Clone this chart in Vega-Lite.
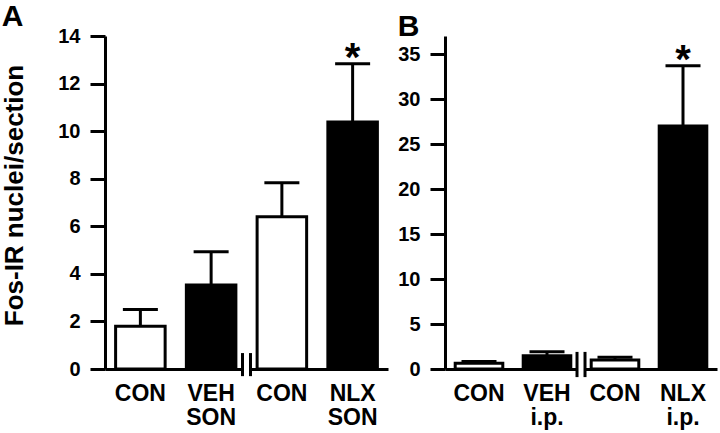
{
  "$schema": "https://vega.github.io/schema/vega-lite/v6.json",
  "background": "white",
  "padding": {"left": 1, "top": 2, "right": 2, "bottom": 2},
  "spacing": 9,
  "config": {
    "font": "Liberation Sans",
    "view": {"stroke": null},
    "title": {"font": "Liberation Sans", "fontSize": 30, "fontWeight": "bold", "color": "black", "anchor": "start", "frame": "bounds"}
  },
  "datasets": {
    "a": [
      {"group": "CON1", "mean": 1.8, "err": 2.5, "kind": "control", "star": false},
      {"group": "VEH", "mean": 3.53, "err": 4.93, "kind": "treated", "star": false},
      {"group": "CON2", "mean": 6.4, "err": 7.83, "kind": "control", "star": false},
      {"group": "NLX", "mean": 10.38, "err": 12.83, "kind": "treated", "star": true}
    ],
    "b": [
      {"group": "CON1", "mean": 0.65, "err": 0.82, "kind": "control", "star": false},
      {"group": "VEH", "mean": 1.48, "err": 1.92, "kind": "treated", "star": false},
      {"group": "CON2", "mean": 1.0, "err": 1.3, "kind": "control", "star": false},
      {"group": "NLX", "mean": 27.0, "err": 33.7, "kind": "treated", "star": true}
    ],
    "breakA": [{"group": "CON2", "lo": -0.3, "hi": 0.67, "base": 0}],
    "breakB": [{"group": "CON2", "lo": -0.9, "hi": 1.9, "base": 0}]
  },
  "hconcat": [
    {
      "width": 283, "height": 333,
      "title": {"text": "A", "offset": -6},
      "resolve": {"axis": {"y": "independent"}},
      "encoding": {
        "x": {"field": "group", "type": "nominal",
          "scale": {"domain": ["CON1", "VEH", "CON2", "NLX"], "paddingInner": 0.3, "paddingOuter": 0.15},
          "axis": {"title": null, "ticks": false, "labelAngle": 0, "labelFont": "Liberation Sans", "labelFontWeight": "bold", "labelFontSize": 23, "labelColor": "black", "labelPadding": 13, "labelLineHeight": 24,
            "domainColor": "black", "domainWidth": 3,
            "labelExpr": "datum.value == 'VEH' ? ['VEH','SON'] : datum.value == 'NLX' ? ['NLX','SON'] : 'CON'"}}
      },
      "layer": [
        {
          "data": {"name": "a"},
          "mark": {"type": "rule", "strokeWidth": 3, "color": "black"},
          "encoding": {
            "y": {"field": "mean", "type": "quantitative", "title": "Fos-IR nuclei/section",
              "scale": {"domain": [0, 14], "nice": false},
              "axis": {"values": [0, 2, 4, 6, 8, 10, 12, 14], "grid": false,
                "domainColor": "black", "domainWidth": 3,
                "tickColor": "black", "tickWidth": 3, "tickSize": 15, "tickOpacity": 1,
                "labelFont": "Liberation Sans", "labelFontWeight": "bold", "labelFontSize": 20, "labelColor": "black", "labelPadding": 10,
                "titleFont": "Liberation Sans", "titleFontWeight": "bold", "titleFontSize": 26, "titleColor": "black", "titlePadding": 30, "titleY": 159}},
            "y2": {"field": "err"}
          }
        },
        {
          "data": {"name": "a"},
          "mark": {"type": "tick", "thickness": 3, "size": 35, "color": "black", "opacity": 1},
          "encoding": {"y": {"field": "err", "type": "quantitative", "axis": null}}
        },
        {
          "data": {"name": "a"},
          "mark": {"type": "bar", "stroke": "black", "strokeWidth": 3, "opacity": 1},
          "encoding": {
            "y": {"field": "mean", "type": "quantitative", "axis": null},
            "fill": {"field": "kind", "type": "nominal", "scale": {"domain": ["control", "treated"], "range": ["white", "black"]}, "legend": null}
          }
        },
        {
          "data": {"name": "a"},
          "transform": [{"filter": "datum.star"}],
          "mark": {"type": "text", "text": "*", "fontSize": 40, "fontWeight": "bold", "baseline": "alphabetic", "dy": 7, "color": "black"},
          "encoding": {"y": {"field": "err", "type": "quantitative", "axis": null}}
        },
        {
          "data": {"name": "breakA"},
          "mark": {"type": "point", "shape": "square", "filled": true, "color": "white", "opacity": 1, "size": 40},
          "encoding": {
            "x": {"field": "group", "type": "nominal", "bandPosition": -0.214},
            "y": {"field": "base", "type": "quantitative", "axis": null}
          }
        },
        {
          "data": {"name": "breakA"},
          "mark": {"type": "rule", "strokeWidth": 3, "color": "black", "xOffset": -4},
          "encoding": {
            "x": {"field": "group", "type": "nominal", "bandPosition": -0.214},
            "y": {"field": "lo", "type": "quantitative", "axis": null},
            "y2": {"field": "hi"}
          }
        },
        {
          "data": {"name": "breakA"},
          "mark": {"type": "rule", "strokeWidth": 3, "color": "black", "xOffset": 4},
          "encoding": {
            "x": {"field": "group", "type": "nominal", "bandPosition": -0.214},
            "y": {"field": "lo", "type": "quantitative", "axis": null},
            "y2": {"field": "hi"}
          }
        }
      ]
    },
    {
      "width": 272, "height": 333,
      "title": {"text": "B", "offset": -6},
      "resolve": {"axis": {"y": "independent"}},
      "encoding": {
        "x": {"field": "group", "type": "nominal",
          "scale": {"domain": ["CON1", "VEH", "CON2", "NLX"], "paddingInner": 0.3, "paddingOuter": 0.15},
          "axis": {"title": null, "ticks": false, "labelAngle": 0, "labelFont": "Liberation Sans", "labelFontWeight": "bold", "labelFontSize": 23, "labelColor": "black", "labelPadding": 13, "labelLineHeight": 24,
            "domainColor": "black", "domainWidth": 3,
            "labelExpr": "datum.value == 'VEH' ? ['VEH','i.p.'] : datum.value == 'NLX' ? ['NLX','i.p.'] : 'CON'"}}
      },
      "layer": [
        {
          "data": {"name": "b"},
          "mark": {"type": "rule", "strokeWidth": 3, "color": "black"},
          "encoding": {
            "y": {"field": "mean", "type": "quantitative", "title": null,
              "scale": {"domain": [0, 37], "nice": false},
              "axis": {"values": [0, 5, 10, 15, 20, 25, 30, 35], "grid": false,
                "domainColor": "black", "domainWidth": 3,
                "tickColor": "black", "tickWidth": 3, "tickSize": 15, "tickOpacity": 1,
                "labelFont": "Liberation Sans", "labelFontWeight": "bold", "labelFontSize": 20, "labelColor": "black", "labelPadding": 10}},
            "y2": {"field": "err"}
          }
        },
        {
          "data": {"name": "b"},
          "mark": {"type": "tick", "thickness": 3, "size": 35, "color": "black", "opacity": 1},
          "encoding": {"y": {"field": "err", "type": "quantitative", "axis": null}}
        },
        {
          "data": {"name": "b"},
          "mark": {"type": "bar", "stroke": "black", "strokeWidth": 3, "opacity": 1},
          "encoding": {
            "y": {"field": "mean", "type": "quantitative", "axis": null},
            "fill": {"field": "kind", "type": "nominal", "scale": {"domain": ["control", "treated"], "range": ["white", "black"]}, "legend": null}
          }
        },
        {
          "data": {"name": "b"},
          "transform": [{"filter": "datum.star"}],
          "mark": {"type": "text", "text": "*", "fontSize": 40, "fontWeight": "bold", "baseline": "alphabetic", "dy": 7, "color": "black"},
          "encoding": {"y": {"field": "err", "type": "quantitative", "axis": null}}
        },
        {
          "data": {"name": "breakB"},
          "mark": {"type": "point", "shape": "square", "filled": true, "color": "white", "opacity": 1, "size": 40},
          "encoding": {
            "x": {"field": "group", "type": "nominal", "bandPosition": -0.214},
            "y": {"field": "base", "type": "quantitative", "axis": null}
          }
        },
        {
          "data": {"name": "breakB"},
          "mark": {"type": "rule", "strokeWidth": 3, "color": "black", "xOffset": -4},
          "encoding": {
            "x": {"field": "group", "type": "nominal", "bandPosition": -0.214},
            "y": {"field": "lo", "type": "quantitative", "axis": null},
            "y2": {"field": "hi"}
          }
        },
        {
          "data": {"name": "breakB"},
          "mark": {"type": "rule", "strokeWidth": 3, "color": "black", "xOffset": 4},
          "encoding": {
            "x": {"field": "group", "type": "nominal", "bandPosition": -0.214},
            "y": {"field": "lo", "type": "quantitative", "axis": null},
            "y2": {"field": "hi"}
          }
        }
      ]
    }
  ]
}
